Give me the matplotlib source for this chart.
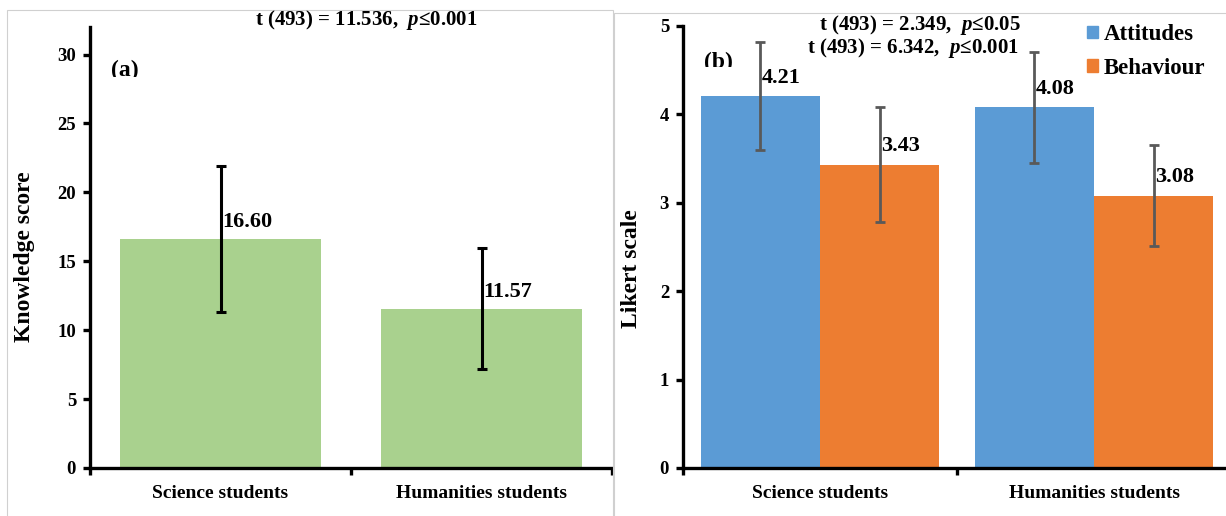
import numpy as np
import matplotlib
matplotlib.use("Agg")
import matplotlib.pyplot as plt
from matplotlib.patches import Rectangle, Patch
from matplotlib.transforms import Bbox, TransformedBbox

plt.rcParams['font.family'] = ['Liberation Serif', 'DejaVu Serif']
plt.rcParams['font.weight'] = 'bold'
plt.rcParams['mathtext.fontset'] = 'custom'
plt.rcParams['mathtext.rm'] = 'Liberation Serif:bold'
plt.rcParams['mathtext.it'] = 'Liberation Serif:italic:bold'

groups = ['Science students', 'Humanities students']

# (a) knowledge score, mean and SD
knowledge = [16.60, 11.57]
knowledge_sd = [5.3, 4.4]

# (b) Likert scale means and SD
attitudes = [4.21, 4.08]
attitudes_sd = [0.61, 0.63]
behaviour = [3.43, 3.08]
behaviour_sd = [0.65, 0.57]

green = '#A9D18E'
blue = '#5B9BD5'
orange = '#ED7D31'

W, H = 1226, 516
fig = plt.figure(figsize=(W / 100, H / 100), dpi=100)


def px(x0, y0, x1, y1):
    # pixel box (top-left origin) -> figure fraction rect
    return [x0 / W, 1 - y1 / H, (x1 - x0) / W, (y1 - y0) / H]


# light grey panel frames
for x0, y0, x1 in [(7, 10, 613), (614, 13, 1240)]:
    fig.patches.append(Rectangle((x0 / W, -0.05), (x1 - x0) / W, 1.05 - y0 / H,
                                 transform=fig.transFigure, fill=False,
                                 edgecolor='#D0D0D0', linewidth=0.8))


def style_axis(ax, ymax, ystep):
    for s in ['top', 'right']:
        ax.spines[s].set_visible(False)
    for s in ['left', 'bottom']:
        ax.spines[s].set_linewidth(2.4)
        ax.spines[s].set_color('black')
    ax.set_ylim(0, ymax)
    ax.set_yticks(np.arange(0, ymax + 0.01, ystep))
    ax.set_xlim(-0.5, 1.5)
    ax.set_xticks([-0.5, 0.5, 1.5])
    ax.set_xticklabels([])
    ax.set_xticks([0, 1], minor=True)
    ax.set_xticklabels(groups, minor=True, fontsize=14, fontweight='bold')
    ax.tick_params(axis='x', which='minor', length=0, pad=12)
    ax.tick_params(axis='x', which='major', length=5, width=2.4, direction='out')
    ax.tick_params(axis='y', length=5, width=2.4, direction='out', labelsize=13.5, pad=5)
    for lab in ax.get_yticklabels():
        lab.set_fontweight('bold')


def clipped_panel_tag(text, x, y, cut_y):
    # panel letter with its lower part cut away
    t = fig.text(x / W, 1 - y / H, text, fontsize=17, fontweight='bold',
                 ha='left', va='top')
    clip = TransformedBbox(Bbox([[0, 1 - cut_y / H], [1, 1]]), fig.transFigure)
    t.set_clip_box(clip)
    t.set_clip_on(True)


# ---- (a) knowledge ----
ax1 = fig.add_axes(px(90, 27, 612, 468))
x = np.arange(len(groups))
ax1.bar(x, knowledge, width=0.77, color=green, zorder=2)
ax1.errorbar(x, knowledge, yerr=knowledge_sd, fmt='none', ecolor='black',
             elinewidth=2.2, capsize=3.5, capthick=2.2, zorder=3)
for xi, v in zip(x, knowledge):
    ax1.annotate(f'{v:.2f}', (xi, v), xytext=(1, 5), textcoords='offset points',
                 ha='left', va='bottom', fontsize=16, fontweight='bold')
style_axis(ax1, 32, 5)
ax1.set_ylabel('Knowledge score', fontsize=17, fontweight='bold')
ax1.yaxis.set_label_coords(-0.105, 0.48)
fig.text(366 / W, 1 - 20 / H, r't (493) = 11.536,  $p$≤0.001', fontsize=15,
         fontweight='bold', ha='center', va='center')
clipped_panel_tag('(a)', 111, 60, 77)

# ---- (b) attitudes and behaviour ----
ax2 = fig.add_axes(px(683, 26, 1231, 468))
bw = 0.435
ax2.bar(x - bw / 2, attitudes, width=bw, color=blue, zorder=2)
ax2.bar(x + bw / 2, behaviour, width=bw, color=orange, zorder=2)
ax2.errorbar(x - bw / 2, attitudes, yerr=attitudes_sd, fmt='none', ecolor='#595959',
             elinewidth=2.0, capsize=3.5, capthick=2.0, zorder=3)
ax2.errorbar(x + bw / 2, behaviour, yerr=behaviour_sd, fmt='none', ecolor='#595959',
             elinewidth=2.0, capsize=3.5, capthick=2.0, zorder=3)
for xs, vals in [(x - bw / 2, attitudes), (x + bw / 2, behaviour)]:
    for xi, v in zip(xs, vals):
        ax2.annotate(f'{v:.2f}', (xi, v), xytext=(1, 6), textcoords='offset points',
                     ha='left', va='bottom', fontsize=16, fontweight='bold')
style_axis(ax2, 5, 1)
ax2.set_ylabel('Likert scale', fontsize=17, fontweight='bold')
ax2.yaxis.set_label_coords(-0.075, 0.45)
fig.text(920 / W, 1 - 25 / H, r't (493) = 2.349,  $p$≤0.05', fontsize=15,
         fontweight='bold', ha='center', va='center')
fig.text(913 / W, 1 - 48 / H, r't (493) = 6.342,  $p$≤0.001', fontsize=15,
         fontweight='bold', ha='center', va='center')
clipped_panel_tag('(b)', 704, 52, 67)

handles = [Patch(color=blue, label='Attitudes'), Patch(color=orange, label='Behaviour')]
fig.legend(handles=handles, loc='upper right', bbox_to_anchor=(1214 / W, 1 - 15 / H),
           frameon=False, prop={'size': 16.5, 'weight': 'bold'},
           handlelength=0.48, handleheight=0.48, handletextpad=0.25, labelspacing=0.55,
           borderaxespad=0)

fig.savefig('out.png', dpi=100)
